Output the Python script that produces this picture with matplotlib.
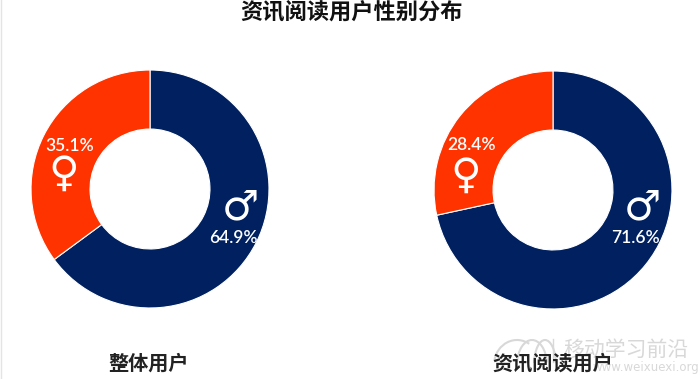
import matplotlib
matplotlib.use("Agg")
import matplotlib.pyplot as plt
from matplotlib.patches import Arc

plt.rcParams['font.family'] = ['Noto Sans CJK SC', 'DejaVu Sans']

title = "资讯阅读用户性别分布"
group_names = ["整体用户", "资讯阅读用户"]
male_share = [64.9, 71.6]
female_share = [35.1, 28.4]
male_symbol = "\u2642"
female_symbol = "\u2640"
watermark = "移动学习前沿"
watermark_url = "www.weixuexi.org"

navy = "#002060"
orange = "#FF3300"
mark_grey = "#d8d8d8"

W, H = 700, 379
fig = plt.figure(figsize=(W / 100, H / 100), dpi=100, facecolor="white")

# donut centres in pixels
centers = [(150, 189), (553, 190)]
radius = 119


def add_donut(cx, cy, male, female):
    ax = fig.add_axes([(cx - radius - 2) / W, 1 - (cy + radius + 2) / H, (2 * radius + 4) / W, (2 * radius + 4) / H])
    ax.pie([male, female], colors=[navy, orange], startangle=90, counterclock=False, radius=1,
           wedgeprops=dict(width=0.496, edgecolor="white", linewidth=0.8))
    ax.set_xlim(-1.017, 1.017)
    ax.set_ylim(-1.017, 1.017)
    ax.set_aspect("equal")
    ax.axis("off")


for (cx, cy), m, f in zip(centers, male_share, female_share):
    add_donut(cx, cy, m, f)


def px_text(x, y, s, **kw):
    fig.text(x / W, 1 - y / H, s, ha="center", va="center", **kw)


# watermark bottom right, sits under the group label
bg = fig.add_axes([0, 0, 1, 1], zorder=5)
bg.set_xlim(0, W)
bg.set_ylim(H, 0)
bg.axis("off")
bg.patch.set_alpha(0)
bg.plot([0.5, 0.5], [0, H], color="#e4e4e4", lw=1)
bg.add_patch(Arc((517, 365), 46, 50, theta1=190, theta2=300, color=mark_grey, lw=1.5))
bg.add_patch(Arc((532, 365), 30, 50, theta1=190, theta2=350, color=mark_grey, lw=1.5))
bg.add_patch(Arc((545, 365), 22, 50, theta1=190, theta2=350, color=mark_grey, lw=1.5))
bg.plot([553, 553], [339, 362], color=mark_grey, lw=1)
bg.text(626, 350, watermark, ha="center", va="center", fontsize=15, color=mark_grey)
bg.text(646, 368, watermark_url, ha="center", va="center", fontsize=8.5, color=mark_grey, family="DejaVu Sans")

px_text(352, 13, title, fontsize=16, fontweight="bold", color="#111111", zorder=10)
fig.text(149 / W, 1 - 363 / H, group_names[0], ha="center", va="center", fontsize=14.5, fontweight="bold", color="#222222", zorder=10)
fig.text(553 / W, 1 - 363 / H, group_names[1], ha="center", va="center", fontsize=14.5, fontweight="bold", color="#222222", zorder=10)

# labels on the rings
label_kw = dict(fontsize=12.5, color="white", fontweight="semibold", family="Lato", zorder=10)
px_text(70, 146, f"{female_share[0]}%", **label_kw)
px_text(233, 238, f"{male_share[0]}%", **label_kw)
px_text(472, 145, f"{female_share[1]}%", **label_kw)
px_text(635, 238, f"{male_share[1]}%", **label_kw)

px_text(64, 174, female_symbol, fontsize=30, color="white", family="DejaVu Sans", zorder=10)
px_text(240, 207, male_symbol, fontsize=30, color="white", family="DejaVu Sans", zorder=10)
px_text(466, 176, female_symbol, fontsize=30, color="white", family="DejaVu Sans", zorder=10)
px_text(642, 207, male_symbol, fontsize=30, color="white", family="DejaVu Sans", zorder=10)

fig.savefig("out.png", dpi=100, facecolor="white")
